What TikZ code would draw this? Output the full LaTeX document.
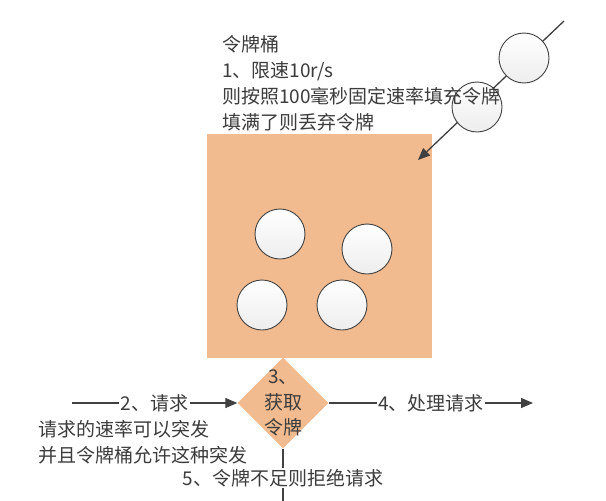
\documentclass[tikz,border=0pt]{standalone}
\usepackage{fontspec}
\setmainfont{Noto Sans CJK SC}
\usetikzlibrary{shapes.geometric,arrows.meta}
\definecolor{peach}{RGB}{242,187,143}
\definecolor{ink}{RGB}{64,64,64}
\definecolor{txt}{RGB}{60,60,60}
\begin{document}
\begin{tikzpicture}[x=1pt,y=-1pt,
  token/.style={circle, draw=ink, line width=0.9pt, minimum size=50pt, inner sep=0pt, top color=white, bottom color=gray!14},
  conn/.style={draw=ink, line width=1.3pt},
  arr/.style={conn, -{Triangle[length=12pt,width=10pt]}},
  lbl/.style={font=\fontsize{19}{26}\selectfont, text=txt, inner sep=1pt},
  onwhite/.style={lbl, fill=white, inner sep=1.5pt}]
\useasboundingbox (0,0) rectangle (606,501);
\fill[white] (0,0) rectangle (606,501);
\clip (0,0) rectangle (606,501);
% bucket
\node[fill=peach, minimum width=225pt, minimum height=224pt, inner sep=0pt, anchor=north west] (bucket) at (207,134) {};
\node[token] (c1) at (280,234) {};
\node[token] (c2) at (367,249) {};
\node[token] (c3) at (262,305) {};
\node[token] (c4) at (342,305) {};
% incoming tokens
\coordinate (src) at (564,21);
\coordinate (tip) at (418,160);
\draw[arr] (src) -- (tip);
\node[token] (ta) at (524,58) {};
\node[token] (tb) at (477,107) {};
\node[lbl, align=left, anchor=north west] (desc) at (221,34) {令牌桶\\1、限速10r/s\\则按照100毫秒固定速率填充令牌\\填满了则丢弃令牌};
% decision
\node[diamond, fill=peach, minimum width=91pt, minimum height=91pt, inner sep=0pt] (get) at (283,403) {};
\node[lbl, align=center, font=\fontsize{19}{25.5}\selectfont] (gettxt) at (get.center) {3、\\获取\\令牌};
% request in
\coordinate (in) at (72,403);
\draw[arr] (in) -- (get.west) node[onwhite, midway] (reqlbl) {2、请求};
\node[lbl, align=left, anchor=north west] (burst) at (37,419) {请求的速率可以突发\\并且令牌桶允许这种突发};
% processed
\coordinate (out) at (533,403);
\draw[arr] (get.east) -- (out) node[onwhite, midway] (proclbl) {4、处理请求};
% reject
\coordinate (down) at (283,507.5);
\draw[conn] (get.south) -- (down) node[onwhite, midway] (rejlbl) {5、令牌不足则拒绝请求};
\end{tikzpicture}
\end{document}
